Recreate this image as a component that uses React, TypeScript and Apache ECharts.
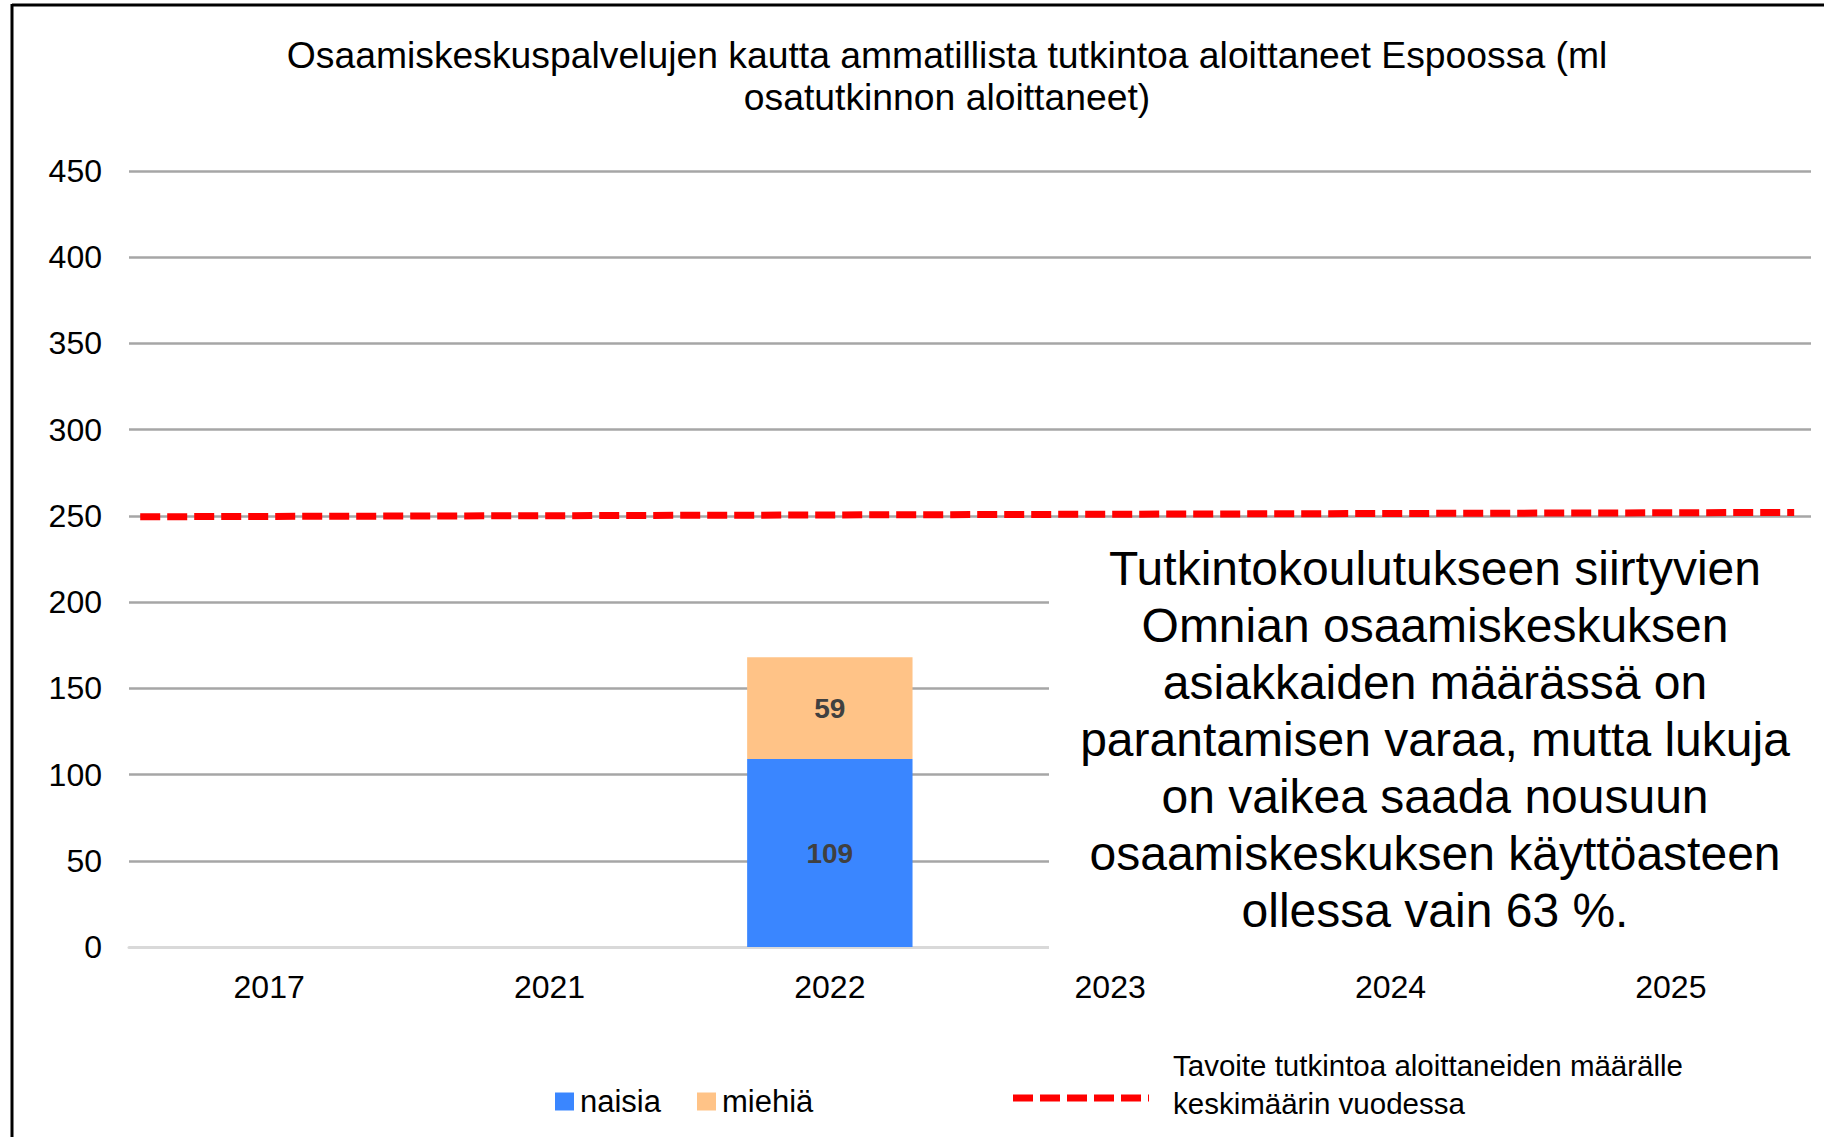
import React, { useEffect, useRef } from "react";
import * as echarts from "echarts";

const years = ["2017", "2021", "2022", "2023", "2024", "2025"];
const naisia = [null, null, 109, null, null, null];
const miehia = [null, null, 59, null, null, null];
// target line (x in category units, y in axis units)
const targetLine = [
  [0.04, 249.5],
  [5.94, 252],
];
const yTicks = { min: 0, max: 450, interval: 50 };

const titleText =
  "Osaamiskeskuspalvelujen kautta ammatillista tutkintoa aloittaneet Espoossa (ml\nosatutkinnon aloittaneet)";
const noteText =
  "Tutkintokoulutukseen siirtyvien\nOmnian osaamiskeskuksen\nasiakkaiden määrässä on\nparantamisen varaa, mutta lukuja\non vaikea saada nousuun\nosaamiskeskuksen käyttöasteen\nollessa vain 63 %.";
const targetName = "Tavoite tutkintoa aloittaneiden määrälle\nkeskimäärin vuodessa";

const FONT = "'Liberation Sans', Arial, Helvetica, sans-serif";

export default function App() {
  const ref = useRef<HTMLDivElement>(null);
  useEffect(() => {
    if (!ref.current) return;
    const chart = echarts.init(ref.current, null, { renderer: "svg" });
    chart.setOption({
      animation: false,
      backgroundColor: "#ffffff",
      textStyle: { fontFamily: FONT },
      grid: { left: 129, right: 13, top: 171, bottom: 190, containLabel: false },
      legend: {
        data: ["naisia", "miehiä"],
        left: 555,
        top: 1086,
        padding: 0,
        icon: "rect",
        itemWidth: 19,
        itemHeight: 18,
        itemGap: 36,
        textStyle: { fontSize: 31, color: "#000000", fontFamily: FONT, padding: [0, 0, 0, 1] },
      },
      xAxis: [
        {
          type: "category",
          data: years,
          axisTick: { show: false },
          axisLine: { show: true, lineStyle: { color: "#d9d9d9", width: 3 } },
          axisLabel: { fontSize: 32, color: "#000000", margin: 24, fontFamily: FONT },
        },
        { type: "value", min: 0, max: 6, show: false },
      ],
      yAxis: {
        type: "value",
        min: yTicks.min,
        max: yTicks.max,
        interval: yTicks.interval,
        axisLine: { show: false },
        axisTick: { show: false },
        axisLabel: { fontSize: 32, color: "#000000", margin: 27, fontFamily: FONT },
        splitLine: { lineStyle: { color: "#a6a6a6", width: 2.5 } },
      },
      series: [
        {
          name: "naisia",
          type: "bar",
          stack: "total",
          data: naisia,
          barWidth: "59%",
          itemStyle: { color: "#3a86ff" },
          label: {
            show: true,
            position: "inside",
            fontSize: 28,
            fontWeight: "bold",
            color: "#404040",
            fontFamily: FONT,
          },
        },
        {
          name: "miehiä",
          type: "bar",
          stack: "total",
          data: miehia,
          barWidth: "59%",
          itemStyle: { color: "#ffc387" },
          label: {
            show: true,
            position: "inside",
            fontSize: 28,
            fontWeight: "bold",
            color: "#404040",
            fontFamily: FONT,
          },
        },
        {
          name: targetName,
          type: "line",
          xAxisIndex: 1,
          yAxisIndex: 0,
          data: targetLine,
          symbol: "none",
          z: 10,
          lineStyle: { color: "#ff0000", width: 7, type: [20, 7], cap: "butt" },
        },
      ],
      graphic: [
        {
          type: "rect",
          z: 5,
          shape: { x: 1049, y: 528, width: 775, height: 438 },
          style: { fill: "#ffffff" },
        },
        {
          type: "line",
          z: 20,
          shape: { x1: 12, y1: 5, x2: 1824, y2: 5 },
          style: { stroke: "#000000", lineWidth: 3 },
        },
        {
          type: "line",
          z: 20,
          shape: { x1: 12, y1: 4, x2: 12, y2: 1137 },
          style: { stroke: "#000000", lineWidth: 3 },
        },
        {
          type: "text",
          z: 20,
          x: 947,
          y: 34,
          style: {
            text: titleText,
            fontSize: 37.3,
            lineHeight: 42,
            fontFamily: FONT,
            fill: "#000000",
            align: "center",
            verticalAlign: "top",
          },
        },
        {
          type: "text",
          z: 20,
          x: 1435,
          y: 540,
          style: {
            text: noteText,
            fontSize: 48,
            lineHeight: 57,
            fontFamily: FONT,
            fill: "#000000",
            align: "center",
            verticalAlign: "top",
          },
        },
        {
          type: "line",
          z: 20,
          shape: { x1: 1013, y1: 1098, x2: 1149, y2: 1098 },
          style: { stroke: "#ff0000", lineWidth: 7, lineDash: [20, 7] },
        },
        {
          type: "text",
          z: 20,
          x: 1173,
          y: 1046,
          style: {
            text: targetName,
            fontSize: 29.5,
            lineHeight: 38,
            fontFamily: FONT,
            fill: "#000000",
            align: "left",
            verticalAlign: "top",
          },
        },
      ],
    });
    return () => chart.dispose();
  }, []);
  return (
    <div
      ref={ref}
      style={{ position: "fixed", left: 0, top: 0, width: 1824, height: 1137, background: "#fff" }}
    />
  );
}
